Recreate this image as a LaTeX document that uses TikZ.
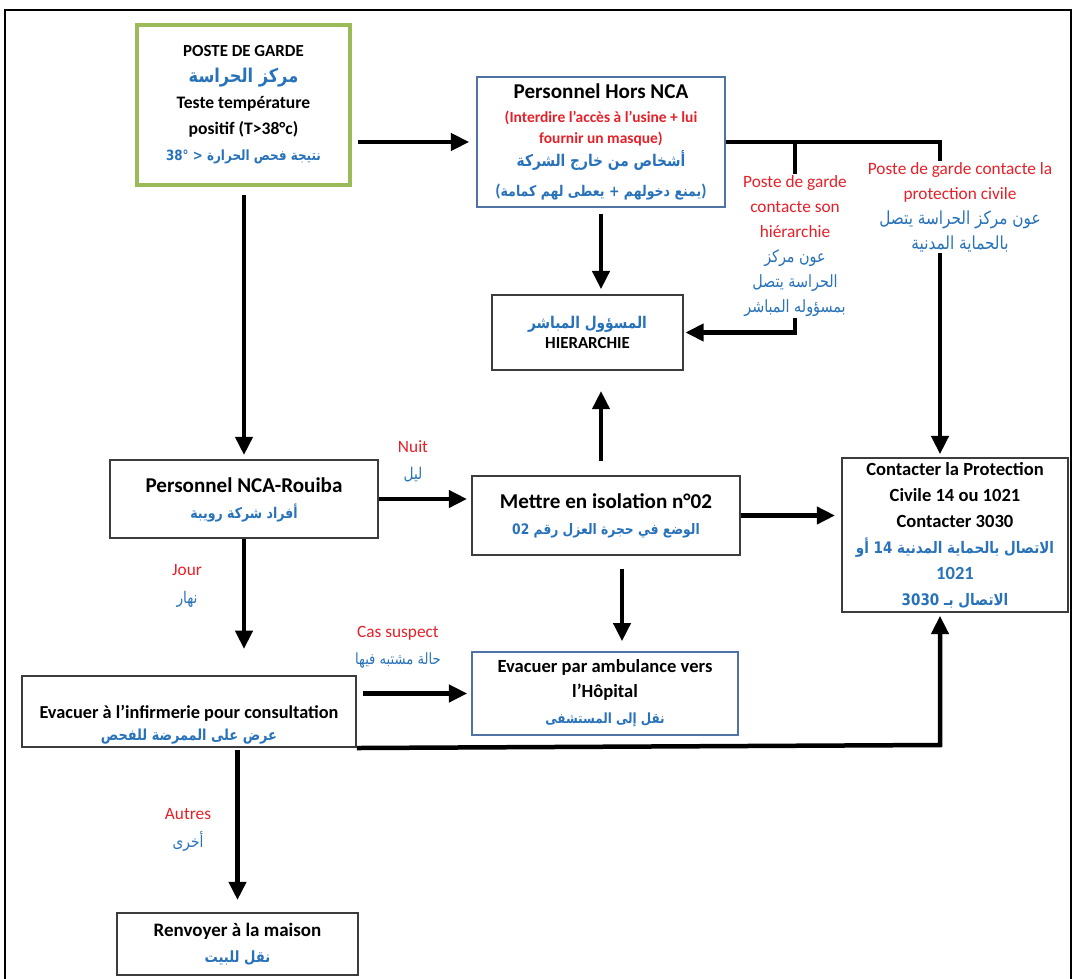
\documentclass[tikz,border=0pt]{standalone}
\usepackage{fontspec}
\setmainfont{Carlito}
\newfontfamily\arfont[Script=Arabic, FakeStretch=0.85]{DejaVu Sans}
\usetikzlibrary{arrows.meta}
\usetikzlibrary{calc}
\TeXXeTstate=1
\lineskiplimit=-30pt

\definecolor{labred}{RGB}{230,32,40}
\definecolor{arblue}{RGB}{40,114,186}
\definecolor{gardegreen}{RGB}{155,187,89}
\definecolor{horsblue}{RGB}{80,115,165}
\definecolor{boxgrey}{RGB}{60,60,60}

\newcommand{\frb}[2]{{\bfseries\fontsize{#1}{18.5}\selectfont #2}}
\newcommand{\arb}[2]{{\color{arblue}\arfont\bfseries\fontsize{#1}{18.5}\selectfont #2}}
\newcommand{\arl}[2]{{\color{arblue}\arfont\fontsize{#1}{18.5}\selectfont #2}}

\begin{document}
\begin{tikzpicture}[x=0.025cm, y=-0.025cm,
        box_style/.style={draw=boxgrey, line width=1.3pt, align=center, inner sep=2pt, font=\fontsize{15}{18.5}\selectfont},
        garde_style/.style={box_style, draw=gardegreen, line width=2.8pt},
        blue_box_style/.style={box_style, draw=horsblue, line width=1pt},
        label_style/.style={align=center, inner sep=1pt, text=labred, font=\fontsize{12.3}{19.5}\selectfont},
        side_label_style/.style={label_style, fill=white, font=\fontsize{12.3}{17.8}\selectfont},
        line_style/.style={draw=black, line width=3.2pt},
        edge_style/.style={line_style, -{Triangle[length=13pt,width=12pt]}},
        frame_style/.style={draw=black, line width=2pt}]

        \useasboundingbox (0,0) rectangle (1073,979);
        \draw[frame_style] (5,10) rectangle (1071,995);

        % boxes
        \node[garde_style, minimum width=5.325cm, minimum height=4cm] (garde) at (243.5,105)
            {\frb{12}{POSTE DE GARDE}\\ \arb{13.5}{\beginR مركز الحراسة\endR}\\ \frb{12.5}{Teste température}\\ \frb{12.5}{positif (T>38°c)}\\ \arb{10}{\beginR نتيجة فحص الحرارة \beginL 38° <\endL\endR}};
        \node[blue_box_style, minimum width=6.2cm, minimum height=3.25cm] (hors) at (601,142)
            {\frb{15}{Personnel Hors NCA}\\[-1.5pt] {\color{labred}\frb{11}{(Interdire l’accès à l’usine + lui}}\\[-3.5pt] {\color{labred}\frb{11}{fournir un masque)}}\\[-2pt] \arb{11.5}{\beginR أشخاص من خارج الشركة\endR}\\[3pt] {\color{arblue}\frb{12}{(}\arb{10.5}{\beginR يمنع دخولهم + يعطى لهم كمامة\endR}\frb{12}{)}}};
        \node[box_style, minimum width=4.775cm, minimum height=1.875cm] (hier) at (587.5,332.5)
            {\arb{11.5}{\beginR المسؤول المباشر\endR}\\[-4pt] \frb{12}{HIERARCHIE}};
        \node[box_style, minimum width=6.7cm, minimum height=1.95cm] (rouiba) at (244,499)
            {\\[-7pt] \frb{15}{Personnel NCA-Rouiba}\\ \arb{10.5}{\beginR أفراد شركة رويبة\endR}};
        \node[box_style, minimum width=6.7cm, minimum height=1.975cm] (isol) at (606,515.5)
            {\frb{15}{Mettre en isolation n°02}\\ \arb{10.3}{\beginR الوضع في حجرة العزل رقم \beginL02\endL\endR}};
        \node[box_style, minimum width=5.65cm, minimum height=3.85cm] (contact) at (955,535)
            {\frb{13.2}{Contacter la Protection}\\ \frb{13.2}{Civile 14 ou 1021}\\ \frb{13.2}{Contacter 3030}\\ \arb{11.3}{\beginR الاتصال بالحماية المدنية \beginL14\endL{} أو\endR}\\ {\color{arblue}\frb{13.2}{1021}}\\ \arb{11.3}{\beginR الاتصال بـ \beginL3030\endL\endR}};
        \node[blue_box_style, minimum width=6.65cm, minimum height=2.075cm] (ambul) at (605,693.5)
            {\frb{13.2}{Evacuer par ambulance vers}\\[-1pt] \frb{13.2}{l’Hôpital}\\ \arb{10}{\beginR نقل إلى المستشفى\endR}};
        \node[box_style, minimum width=8.35cm, minimum height=1.725cm] (infirm) at (189,711.5)
            {\\[10pt] \frb{13}{Evacuer à l’infirmerie pour consultation}\\[-3pt] \arb{10.8}{\beginR عرض على الممرضة للفحص\endR}};
        \node[box_style, minimum width=6.025cm, minimum height=1.55cm] (renv) at (237.5,944)
            {\frb{13.5}{Renvoyer à la maison}\\ \arb{11}{\beginR نقل للبيت\endR}};

        \coordinate (c_hier) at (795,142);
        \coordinate (c_prot) at (940,142);
        \coordinate (c_low) at (940,745);

        % connectors
        \draw[edge_style, shorten <=4pt, shorten >=5pt] (garde.east |- hors.west) -- (hors.west);
        \draw[edge_style, shorten >=2pt] (hors.east) -- (c_prot) -- (c_prot |- contact.north);
        \draw[edge_style, shorten >=1pt] (c_hier) -- (c_hier |- hier.east) -- (hier.east);
        \draw[edge_style, shorten <=0.15cm, shorten >=0.12cm] (hors.south) -- (hors.south |- hier.north);
        \draw[edge_style, shorten <=0.35cm, shorten >=0.5cm] (isol.north -| hors.south) -- (hors.south |- hier.south);
        \draw[edge_style, shorten <=0.2cm, shorten >=0.1cm] (garde.south -| rouiba.north) -- (rouiba.north);
        \draw[edge_style, shorten >=0.65cm] (rouiba.south) -- (rouiba.south |- infirm.north);
        \draw[edge_style, shorten >=0.1cm] (rouiba.east) -- (rouiba.east -| isol.west);
        \draw[edge_style, shorten >=0.15cm] (isol.east) -- (isol.east -| contact.west);
        \draw[edge_style, shorten <=0.32cm, shorten >=0.25cm] ([xshift=0.4cm]isol.south) -- ([xshift=0.4cm]isol.south |- ambul.north);
        \draw[edge_style, shorten <=0.15cm, shorten >=0.1cm] (infirm.east |- ambul.west) -- (ambul.west);
        \draw[edge_style, shorten >=2pt] (infirm.south east) -- (c_low) -- (c_low |- contact.south);
        \draw[edge_style, shorten <=0.05cm, shorten >=0.3cm] (renv.north |- infirm.south) -- (renv.north);

        % labels
        \node[side_label_style] (l_hier) at (795,246)
            {Poste de garde\\ contacte son\\ hiérarchie\\ \arl{12}{\beginR عون مركز\endR}\\ \arl{12}{\beginR الحراسة يتصل\endR}\\ \arl{12}{\beginR بمسؤوله المباشر\endR}};
        \node[side_label_style] (l_prot) at (960,207)
            {Poste de garde contacte la\\ protection civile\\ \arl{12.8}{\beginR عون مركز الحراسة يتصل\endR}\\ \arl{12.8}{\beginR بالحماية المدنية\endR}};
        \node[label_style] (l_nuit) at (413,461) {Nuit\\ \arl{11.5}{\beginR ليل\endR}};
        \node[label_style] (l_jour) at (187,586) {Jour\\ \arl{11.5}{\beginR نهار\endR}};
        \node[label_style] (l_cas) at (398,647) {Cas suspect\\ \arl{11}{\beginR حالة مشتبه فيها\endR}};
        \node[label_style] (l_autres) at (188,830) {Autres\\ \arl{11.5}{\beginR أخرى\endR}};
\end{tikzpicture}
\end{document}
